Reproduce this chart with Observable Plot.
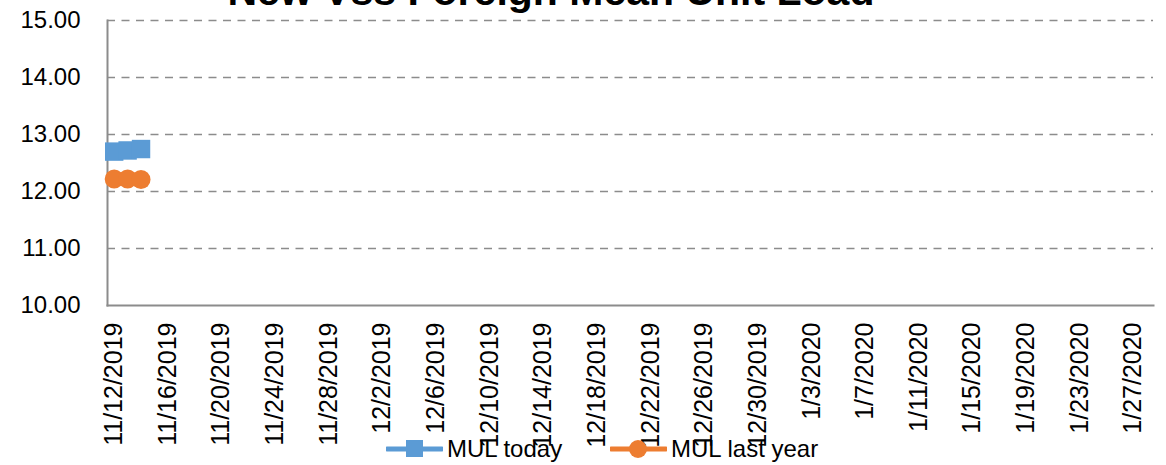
<!DOCTYPE html>
<html>
<head>
<meta charset="utf-8">
<script src="https://cdn.jsdelivr.net/npm/d3@7"></script>
<script src="https://cdn.jsdelivr.net/npm/@observablehq/plot@0.6"></script>
<style>
  html, body { margin: 0; padding: 0; background: #fff; }
  #wrap { position: relative; width: 1166px; height: 465px; overflow: hidden; font-family: "Liberation Sans", Arial, sans-serif; }
  #title { position: absolute; left: 0; width: 1102px; text-align: center; top: -29px; font-size: 41px; line-height: 41px; font-weight: bold; color: #000; white-space: nowrap; }
  #legend { position: absolute; top: 434px; left: 0; width: 1166px; height: 31px; }
  .item { position: absolute; top: 0; display: flex; align-items: center; font-size: 24px; line-height: 30px; color: #000; }
  .item svg { margin-right: 4px; }
</style>
</head>
<body>
<div id="wrap">
  <div id="chart"></div>
  <div id="title">New Vss Foreign Mean Unit Load</div>
  <div id="legend"></div>
</div>
<script>
const title = "New Vss Foreign Mean Unit Load";
const dates = ["2019-11-12", "2019-11-13", "2019-11-14"];
const mulToday = [12.70, 12.72, 12.745];
const mulLastYear = [12.22, 12.22, 12.21];
const seriesNames = ["MUL today", "MUL last year"];
const seriesColors = ["#5B9BD5", "#ED7D31"];
const yTicks = [10, 11, 12, 13, 14, 15];
const xTickLabels = ["11/12/2019","11/16/2019","11/20/2019","11/24/2019","11/28/2019","12/2/2019","12/6/2019","12/10/2019","12/14/2019","12/18/2019","12/22/2019","12/26/2019","12/30/2019","1/3/2020","1/7/2020","1/11/2020","1/15/2020","1/19/2020","1/23/2020","1/27/2020"];
const xDomain = ["2019-11-11T12:00:00Z", "2020-01-28T12:00:00Z"];

const parseMDY = s => { const [m, d, y] = s.split("/").map(Number); return new Date(Date.UTC(y, m - 1, d)); };
const fmtMDY = d => `${d.getUTCMonth() + 1}/${d.getUTCDate()}/${d.getUTCFullYear()}`;
const xTicks = xTickLabels.map(parseMDY);

const today = dates.map((d, i) => ({date: new Date(d + "T00:00:00Z"), value: mulToday[i]}));
const lastYear = dates.map((d, i) => ({date: new Date(d + "T00:00:00Z"), value: mulLastYear[i]}));

const chart = Plot.plot({
  width: 1166,
  height: 465,
  marginTop: 20,
  marginBottom: 160,
  marginLeft: 107,
  marginRight: 13,
  style: {fontFamily: "'Liberation Sans', Arial, sans-serif", fontSize: "24px", color: "#000", background: "#fff"},
  x: {type: "utc", domain: xDomain.map(d => new Date(d)), label: null},
  y: {domain: [10, 15], label: null},
  marks: [
    Plot.ruleY(yTicks.filter(t => t !== 10), {stroke: "#8c8c8c", strokeWidth: 1.6, strokeDasharray: "8,6.5", strokeOpacity: 1}),
    Plot.frame({anchor: "left", stroke: "#8c8c8c", strokeWidth: 2}),
    Plot.frame({anchor: "bottom", stroke: "#8c8c8c", strokeWidth: 2}),
    Plot.axisY({ticks: yTicks, tickFormat: d => d.toFixed(2), tickSize: 0, tickPadding: 27, fontSize: 24, label: null}),
    Plot.axisX({ticks: xTicks, tickFormat: fmtMDY, tickSize: 0, tickPadding: 17, tickRotate: -90, fontSize: 25, label: null}),
    Plot.line(today, {x: "date", y: "value", stroke: seriesColors[0], strokeWidth: 4}),
    Plot.line(lastYear, {x: "date", y: "value", stroke: seriesColors[1], strokeWidth: 4}),
    Plot.dot(today, {x: "date", y: "value", symbol: "square", r: 10.4, fill: seriesColors[0], stroke: "none"}),
    Plot.dot(lastYear, {x: "date", y: "value", symbol: "circle", r: 9.5, fill: seriesColors[1], stroke: "none"})
  ]
});
document.getElementById("chart").appendChild(chart);

// legend
const legend = document.getElementById("legend");
const legendLeft = [386, 610];
seriesNames.forEach((name, i) => {
  const item = document.createElement("div");
  item.className = "item";
  item.style.left = legendLeft[i] + "px";
  const marker = i === 0
    ? `<rect x="20" y="6" width="17" height="17" fill="${seriesColors[i]}"/>`
    : `<circle cx="28" cy="15" r="9" fill="${seriesColors[i]}"/>`;
  item.innerHTML = `<svg width="57" height="30"><line x1="1" x2="56" y1="15" y2="15" stroke="${seriesColors[i]}" stroke-width="5" stroke-linecap="round"/>${marker}</svg><span>${name}</span>`;
  legend.appendChild(item);
});
</script>
</body>
</html>
